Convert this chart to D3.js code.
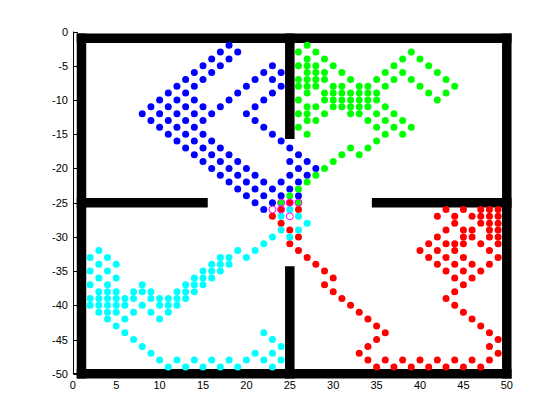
<html lang="en">
<head>
    <meta charset="UTF-8">
    <title>Room trajectories</title>
    <script src="https://d3js.org/d3.v7.min.js"></script>
    <style>
        body {
            margin: 0;
            background: #ffffff;
        }
        .tick-label {
            font-family: 'Liberation Sans', Arial, sans-serif;
            font-size: 11px;
            fill: #000;
        }
    </style>
</head>
<body>
    <div id="chart"></div>

    <script>
        const xTicks = [0, 5, 10, 15, 20, 25, 30, 35, 40, 45, 50];
        const yTicks = [0, -5, -10, -15, -20, -25, -30, -35, -40, -45, -50];

        // walls as line segments [x1, y1, x2, y2]
        const walls = [
            [1, -1, 50, -1],
            [1, -1, 1, -50],
            [1, -50, 50, -50],
            [50, -1, 50, -50],
            [25, -1, 25, -15],
            [25, -35, 25, -50],
            [1, -25, 15, -25],
            [35, -25, 50, -25]
        ];

        // each row: [y, [x values]]
        const blueRows = [
            [-2, [18]], [-3, [17, 19]], [-4, [16, 18]], [-5, [15, 17, 23]],
            [-6, [14, 16, 22, 24]], [-7, [13, 15, 21, 23]], [-8, [12, 14, 20, 24]],
            [-9, [11, 13, 19, 23]], [-10, [10, 12, 14, 18, 22]],
            [-11, [9, 11, 13, 15, 17, 21]], [-12, [8, 10, 12, 14, 16, 20]],
            [-13, [9, 11, 13, 15, 21]], [-14, [10, 12, 14, 22]], [-15, [11, 13, 15, 23]],
            [-16, [12, 14, 16, 24]], [-17, [13, 15, 17, 25]], [-18, [14, 16, 18, 26]],
            [-19, [15, 17, 19, 25, 27]], [-20, [16, 18, 20, 26, 28]],
            [-21, [17, 19, 21, 25, 27]], [-22, [18, 20, 22, 24, 26]],
            [-23, [19, 21, 23, 25]], [-24, [20, 22, 24, 26]], [-25, [21, 23]], [-26, [22]]
        ];

        const greenRows = [
            [-2, [27]], [-3, [26, 28, 39]], [-4, [27, 29, 38, 40]],
            [-5, [26, 27, 28, 30, 37, 41]], [-6, [27, 28, 29, 31, 36, 38, 42]],
            [-7, [26, 27, 28, 29, 32, 35, 37, 39, 43]],
            [-8, [26, 27, 28, 30, 31, 33, 34, 36, 40, 44]],
            [-9, [27, 29, 30, 31, 32, 33, 34, 35, 41, 43]],
            [-10, [26, 29, 30, 31, 32, 33, 34, 35, 42]],
            [-11, [27, 28, 30, 31, 32, 33, 34, 36]],
            [-12, [26, 27, 29, 32, 33, 35, 37]], [-13, [27, 28, 34, 36, 38]],
            [-14, [26, 35, 37, 39]], [-15, [27, 36, 38]], [-16, [35]],
            [-17, [32, 34]], [-18, [31, 33]], [-19, [30]], [-20, [29]],
            [-21, [28]], [-22, [27]], [-23, [26]], [-24, [25]], [-25, [24, 26]]
        ];

        const redRows = [
            [-25, [25]], [-26, [24, 26, 43, 45, 47, 48, 49]],
            [-27, [23, 42, 44, 46, 47, 48, 49]], [-28, [24, 44, 47, 48, 49]],
            [-29, [25, 43, 45, 46, 48, 49]], [-30, [26, 42, 45, 46, 48, 49]],
            [-31, [25, 41, 43, 44, 45, 47, 49]], [-32, [26, 40, 42, 44, 48]],
            [-33, [27, 41, 43, 45, 49]], [-34, [28, 42, 44, 46, 48]],
            [-35, [29, 43, 45, 47]], [-36, [30, 44, 46]], [-37, [29, 45]],
            [-38, [30, 44]], [-39, [31, 43]], [-40, [32, 44]], [-41, [33, 45]],
            [-42, [34, 46]], [-43, [35, 47]], [-44, [36, 48]], [-45, [35, 49]],
            [-46, [34, 48]], [-47, [33, 49]],
            [-48, [34, 36, 38, 40, 42, 44, 46, 48]],
            [-49, [35, 37, 39, 41, 43, 45, 47]]
        ];

        const cyanRows = [
            [-26, [25]], [-27, [24, 26]], [-28, [27]], [-29, [24, 26]],
            [-30, [23, 25]], [-31, [22]], [-32, [3, 19, 21]],
            [-33, [2, 4, 17, 18, 20]], [-34, [3, 5, 16, 17, 18]],
            [-35, [2, 4, 15, 16, 17]], [-36, [3, 5, 14, 15, 16]],
            [-37, [2, 4, 8, 13, 14, 15]], [-38, [3, 4, 5, 7, 8, 9, 12, 13, 14]],
            [-39, [2, 3, 4, 5, 6, 7, 9, 10, 11, 12, 13]],
            [-40, [2, 3, 4, 5, 6, 8, 10, 11, 12]], [-41, [3, 4, 5, 7, 9, 11]],
            [-42, [4, 6, 10]], [-43, [5]], [-44, [6, 22]], [-45, [7, 23]],
            [-46, [8, 24]], [-47, [9, 21, 23]],
            [-48, [10, 12, 14, 16, 18, 20, 22, 24]],
            [-49, [11, 13, 15, 17, 19, 23]]
        ];

        const startPoints = [[24, -25], [25, -25], [26, -25], [23, -26], [24, -26], [25, -27]];

        const series = [
            { rows: blueRows, color: '#0000ff' },
            { rows: greenRows, color: '#00ff00' },
            { rows: redRows, color: '#ff0000' },
            { rows: cyanRows, color: '#00ffff' }
        ];

        const width = 560;
        const height = 420;

        const svg = d3.select('#chart')
            .append('svg')
            .attr('width', width)
            .attr('height', height);

        const x = d3.scaleLinear().domain([0, 50]).range([72.8, 506.8]);
        const y = d3.scaleLinear().domain([-50, 0]).range([373.8, 31.5]);

        // axis lines (left and bottom) with inward ticks
        svg.append('line')
            .attr('x1', 73.5).attr('x2', 73.5)
            .attr('y1', y(0)).attr('y2', y(-50))
            .attr('stroke', '#000');
        svg.append('line')
            .attr('x1', x(0)).attr('x2', x(50))
            .attr('y1', 373.5).attr('y2', 373.5)
            .attr('stroke', '#000');

        svg.selectAll('.ytick')
            .data(yTicks)
            .enter().append('line')
            .attr('x1', 73.5).attr('x2', 77.8)
            .attr('y1', d => Math.round(y(d)) + 0.5)
            .attr('y2', d => Math.round(y(d)) + 0.5)
            .attr('stroke', '#000');

        svg.selectAll('.ylabel')
            .data(yTicks)
            .enter().append('text')
            .attr('class', 'tick-label')
            .attr('x', 68)
            .attr('y', d => y(d) + 4)
            .attr('text-anchor', 'end')
            .text(d => d);

        svg.selectAll('.xlabel')
            .data(xTicks)
            .enter().append('text')
            .attr('class', 'tick-label')
            .attr('x', d => x(d))
            .attr('y', 388.5)
            .attr('text-anchor', 'middle')
            .text(d => d);

        svg.selectAll('.wall')
            .data(walls)
            .enter().append('line')
            .attr('x1', d => x(d[0]))
            .attr('y1', d => y(d[1]))
            .attr('x2', d => x(d[2]))
            .attr('y2', d => y(d[3]))
            .attr('stroke', '#000')
            .attr('stroke-width', 9.5)
            .attr('stroke-linecap', 'square');

        series.forEach(s => {
            const pts = s.rows.flatMap(([yy, xs]) => xs.map(xx => [xx, yy]));
            svg.append('g')
                .selectAll('circle')
                .data(pts)
                .enter().append('circle')
                .attr('cx', d => x(d[0]))
                .attr('cy', d => y(d[1]))
                .attr('r', 3.5)
                .attr('fill', s.color);
        });

        svg.append('g')
            .selectAll('circle')
            .data(startPoints)
            .enter().append('circle')
            .attr('cx', d => x(d[0]))
            .attr('cy', d => y(d[1]))
            .attr('r', 3.5)
            .attr('fill', 'none')
            .attr('stroke', '#ff00ff')
            .attr('stroke-width', 1);
    </script>
</body>
</html>
